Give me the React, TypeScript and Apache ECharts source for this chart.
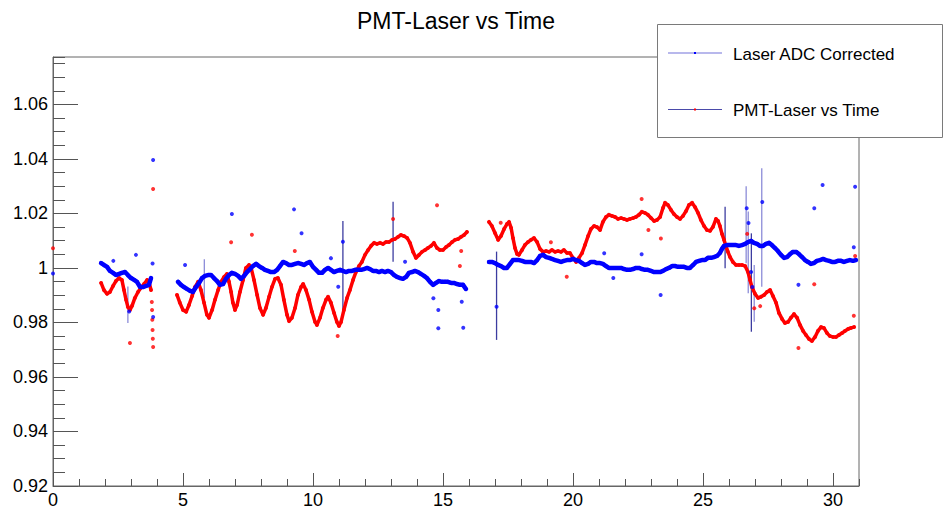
import React, { useEffect, useRef } from 'react';
import * as echarts from 'echarts';

// ---- Laser ADC Corrected (blue points) ----
const laserSeg1: [number, number][] = [
  [1.85, 1.0018], [1.96, 1.0011], [2.08, 1.0004], [2.19, 0.9989], [2.31, 0.9982], [2.42, 0.9974],
  [2.54, 0.9978], [2.65, 0.9982], [2.77, 0.9985], [2.88, 0.9974], [3.0, 0.9963], [3.12, 0.9956],
  [3.23, 0.9949], [3.35, 0.993], [3.46, 0.993], [3.58, 0.9934], [3.69, 0.9938], [3.77, 0.9963],
];
const laserSeg2: [number, number][] = [
  [4.81, 0.9949], [4.92, 0.9938], [5.04, 0.993], [5.15, 0.9923], [5.27, 0.9916], [5.38, 0.9912],
  [5.5, 0.993], [5.62, 0.9945], [5.73, 0.9963], [5.85, 0.9971], [5.96, 0.9974], [6.08, 0.9974],
  [6.19, 0.9963], [6.31, 0.9952], [6.42, 0.9938], [6.54, 0.9941], [6.65, 0.996], [6.77, 0.9974],
  [6.88, 0.9982], [7.0, 0.9978], [7.12, 0.9971], [7.23, 0.996], [7.35, 0.9971], [7.46, 0.9985],
  [7.58, 0.9996], [7.69, 1.0007], [7.81, 1.0015], [7.92, 1.0007], [8.04, 1.0], [8.15, 0.9993],
  [8.27, 0.9989], [8.38, 0.9985], [8.5, 0.9985], [8.62, 0.9993], [8.73, 1.0007], [8.85, 1.0022],
  [8.96, 1.0018], [9.08, 1.0011], [9.19, 1.0011], [9.31, 1.0015], [9.42, 1.0018], [9.54, 1.0015],
  [9.65, 1.0011], [9.77, 1.0018], [9.88, 1.0022], [10.0, 1.0004], [10.12, 0.9993], [10.23, 0.9982],
  [10.35, 0.9982], [10.46, 0.9993], [10.58, 1.0], [10.69, 0.9993], [10.81, 0.9985], [10.92, 0.9989],
  [11.04, 0.9993], [11.15, 0.9989], [11.27, 0.9985], [11.38, 0.9989], [11.5, 0.9989], [11.62, 0.9993],
  [11.73, 0.9993], [11.85, 0.9993], [11.96, 0.9996], [12.08, 1.0], [12.19, 0.9996], [12.31, 0.9989],
  [12.42, 0.9989], [12.54, 0.9985], [12.65, 0.9989], [12.77, 0.9985], [12.88, 0.9989], [13.0, 0.9985],
  [13.12, 0.9974], [13.23, 0.9967], [13.35, 0.9963], [13.46, 0.996], [13.58, 0.9967], [13.69, 0.9982],
  [13.81, 0.9985], [13.92, 0.9989], [14.04, 0.9985], [14.15, 0.9978], [14.27, 0.9971], [14.38, 0.9963],
  [14.5, 0.9949], [14.62, 0.9938], [14.73, 0.9945], [14.85, 0.9952], [14.96, 0.9949], [15.08, 0.9949],
  [15.19, 0.9949], [15.31, 0.9945], [15.42, 0.9945], [15.54, 0.9941], [15.65, 0.9938], [15.77, 0.9938],
  [15.88, 0.9923],
];
const laserSeg3: [number, number][] = [
  [16.77, 1.0022], [16.88, 1.0022], [17.0, 1.0018], [17.12, 1.0011], [17.23, 1.0007], [17.35, 1.0],
  [17.46, 1.0], [17.58, 1.0015], [17.69, 1.0029], [17.81, 1.0029], [17.92, 1.0029], [18.04, 1.0026],
  [18.15, 1.0022], [18.27, 1.0022], [18.38, 1.0022], [18.5, 1.0018], [18.62, 1.0029], [18.73, 1.0044],
  [18.85, 1.0048], [18.96, 1.004], [19.08, 1.0037], [19.19, 1.0033], [19.31, 1.0029], [19.42, 1.0026],
  [19.54, 1.0022], [19.65, 1.0026], [19.77, 1.0029], [19.88, 1.0029], [20.0, 1.0033], [20.12, 1.0029],
  [20.23, 1.0026], [20.35, 1.0018], [20.46, 1.0011], [20.58, 1.0015], [20.69, 1.0022], [20.81, 1.0022],
  [20.92, 1.0018], [21.04, 1.0018], [21.15, 1.0015], [21.27, 1.0007], [21.38, 1.0], [21.5, 1.0],
  [21.62, 1.0], [21.73, 1.0], [21.85, 1.0], [21.96, 0.9996], [22.08, 0.9993], [22.19, 0.9993],
  [22.31, 0.9996], [22.42, 1.0], [22.54, 1.0], [22.65, 0.9996], [22.77, 0.9993], [22.88, 0.9993],
  [23.0, 0.9989], [23.12, 0.9985], [23.23, 0.9985], [23.35, 0.9985], [23.46, 0.9989], [23.58, 0.9996],
  [23.69, 1.0], [23.81, 1.0007], [23.92, 1.0007], [24.04, 1.0004], [24.15, 1.0004], [24.27, 1.0004],
  [24.38, 1.0], [24.5, 1.0], [24.62, 1.0011], [24.73, 1.0022], [24.85, 1.0026], [24.96, 1.0029],
  [25.08, 1.0029], [25.19, 1.0037], [25.31, 1.0037], [25.42, 1.004], [25.54, 1.0044], [25.65, 1.0055],
  [25.73, 1.007], [25.81, 1.0081], [25.92, 1.0084], [26.04, 1.0084], [26.15, 1.0084], [26.27, 1.0084],
  [26.38, 1.0081], [26.5, 1.0084], [26.62, 1.0088], [26.73, 1.0095], [26.85, 1.0099], [26.96, 1.0092],
  [27.08, 1.0088], [27.19, 1.0081], [27.31, 1.0081], [27.42, 1.0088], [27.54, 1.0092], [27.65, 1.0084],
  [27.77, 1.0073], [27.88, 1.0062], [28.0, 1.0048], [28.12, 1.0037], [28.23, 1.004], [28.35, 1.0051],
  [28.46, 1.0059], [28.58, 1.0059], [28.69, 1.0051], [28.81, 1.004], [28.92, 1.0029], [29.04, 1.0022],
  [29.15, 1.0015], [29.27, 1.0018], [29.38, 1.0026], [29.5, 1.0029], [29.62, 1.0033], [29.73, 1.0029],
  [29.85, 1.0026], [29.96, 1.0022], [30.08, 1.0022], [30.19, 1.0026], [30.31, 1.0026], [30.42, 1.0022],
  [30.54, 1.0026], [30.65, 1.0029], [30.77, 1.0026], [30.88, 1.0029],
];
const laserOutliers: [number, number][] = [
  [0.0, 0.998], [2.32, 1.0026], [2.93, 0.984], [3.19, 1.0048], [3.83, 1.0016], [3.85, 0.982],
  [3.85, 1.0396], [5.08, 1.0011], [6.88, 1.0198], [9.27, 1.0215], [9.56, 1.0127], [10.69, 1.0036],
  [10.97, 0.9931], [11.15, 1.0096], [13.54, 1.0023], [14.63, 0.9889], [14.82, 0.9846], [14.82, 0.9779],
  [15.72, 0.9876], [15.78, 0.9781], [17.06, 0.9858], [21.2, 1.0054], [21.55, 0.9963], [22.64, 1.005],
  [23.37, 0.9901], [26.68, 1.0219], [26.75, 1.0165], [26.85, 0.9985], [26.9, 0.993], [27.28, 1.0242],
  [28.67, 0.9938], [29.28, 1.0219], [29.6, 1.0304], [30.8, 1.0076], [30.85, 1.0298],
];

// ---- PMT-Laser vs Time (red points) ----
const pmtSeg1: [number, number][] = [
  [1.85, 0.9945], [1.96, 0.9919], [2.08, 0.9905], [2.19, 0.9912], [2.31, 0.9934], [2.42, 0.9952],
  [2.54, 0.9963], [2.65, 0.9956], [2.73, 0.9919], [2.81, 0.9883], [2.88, 0.9857], [2.96, 0.9846],
  [3.04, 0.9861], [3.15, 0.989], [3.27, 0.9912], [3.38, 0.9927], [3.5, 0.9941], [3.62, 0.9956],
  [3.69, 0.9949], [3.77, 0.9919],
];
const pmtSeg2: [number, number][] = [
  [4.77, 0.9901], [4.88, 0.9872], [5.0, 0.9846], [5.12, 0.9839], [5.23, 0.9864], [5.35, 0.9897],
  [5.46, 0.993], [5.58, 0.9949], [5.69, 0.9919], [5.81, 0.9872], [5.92, 0.9828], [6.0, 0.9817],
  [6.12, 0.9846], [6.23, 0.9883], [6.35, 0.9919], [6.46, 0.9949], [6.58, 0.9967], [6.69, 0.9978],
  [6.77, 0.9949], [6.85, 0.9912], [6.92, 0.9872], [7.0, 0.9846], [7.08, 0.9864], [7.19, 0.9912],
  [7.31, 0.9956], [7.42, 1.0], [7.54, 1.0011], [7.62, 1.0], [7.73, 0.9956], [7.85, 0.9901],
  [7.96, 0.9853], [8.08, 0.9828], [8.19, 0.9853], [8.31, 0.9894], [8.42, 0.993], [8.54, 0.996],
  [8.65, 0.9963], [8.77, 0.9938], [8.88, 0.9883], [9.0, 0.9828], [9.08, 0.9805], [9.19, 0.9817],
  [9.31, 0.9853], [9.42, 0.9901], [9.54, 0.993], [9.62, 0.9941], [9.73, 0.9919], [9.85, 0.9883],
  [9.96, 0.9839], [10.08, 0.9802], [10.15, 0.9791], [10.27, 0.9817], [10.38, 0.9853], [10.5, 0.9883],
  [10.58, 0.9894], [10.69, 0.9872], [10.81, 0.9835], [10.92, 0.9802], [11.0, 0.9787], [11.08, 0.9802],
  [11.19, 0.9846], [11.31, 0.989], [11.42, 0.9919], [11.54, 0.9956], [11.65, 0.9985], [11.77, 1.0007],
  [11.88, 1.0022], [12.0, 1.0048], [12.12, 1.0066], [12.23, 1.0081], [12.35, 1.0092], [12.46, 1.0088],
  [12.58, 1.0092], [12.69, 1.0088], [12.81, 1.0095], [12.92, 1.0095], [13.04, 1.0103], [13.15, 1.0106],
  [13.27, 1.0114], [13.38, 1.0121], [13.5, 1.0117], [13.62, 1.011], [13.73, 1.0092], [13.85, 1.0059],
  [13.96, 1.0037], [14.08, 1.0048], [14.19, 1.0059], [14.31, 1.0066], [14.42, 1.0073], [14.54, 1.0081],
  [14.65, 1.0092], [14.77, 1.0073], [14.88, 1.0066], [15.0, 1.0066], [15.12, 1.0077], [15.23, 1.0084],
  [15.35, 1.0095], [15.46, 1.0103], [15.58, 1.0106], [15.69, 1.0114], [15.81, 1.0121], [15.92, 1.0132],
];
const pmtSeg3: [number, number][] = [
  [16.77, 1.0169], [16.88, 1.0154], [17.0, 1.0128], [17.12, 1.0103], [17.23, 1.0117], [17.35, 1.0143],
  [17.46, 1.0161], [17.54, 1.0169], [17.62, 1.0147], [17.69, 1.011], [17.77, 1.0073], [17.85, 1.0051],
  [17.92, 1.0048], [18.04, 1.0066], [18.15, 1.0084], [18.27, 1.0095], [18.38, 1.0103], [18.5, 1.011],
  [18.62, 1.0095], [18.73, 1.007], [18.85, 1.0059], [18.96, 1.0062], [19.08, 1.0059], [19.19, 1.0066],
  [19.31, 1.0059], [19.42, 1.0062], [19.54, 1.0059], [19.65, 1.0066], [19.77, 1.0055], [19.88, 1.0055],
  [20.0, 1.0037], [20.12, 1.0022], [20.23, 1.0037], [20.35, 1.0055], [20.46, 1.0084], [20.58, 1.0117],
  [20.69, 1.0143], [20.81, 1.0154], [20.92, 1.015], [21.04, 1.0139], [21.15, 1.0169], [21.27, 1.0187],
  [21.38, 1.0195], [21.5, 1.0191], [21.62, 1.0187], [21.73, 1.018], [21.85, 1.0183], [21.96, 1.018],
  [22.08, 1.0176], [22.19, 1.018], [22.31, 1.0183], [22.42, 1.0187], [22.54, 1.0195], [22.65, 1.0206],
  [22.77, 1.0202], [22.88, 1.0195], [23.0, 1.0183], [23.12, 1.0172], [23.23, 1.0176], [23.35, 1.0187],
  [23.46, 1.022], [23.54, 1.0239], [23.65, 1.0231], [23.77, 1.0213], [23.88, 1.0198], [24.0, 1.0187],
  [24.12, 1.018], [24.23, 1.0191], [24.35, 1.0209], [24.46, 1.0231], [24.58, 1.0239], [24.69, 1.0224],
  [24.81, 1.0202], [24.92, 1.0176], [25.04, 1.0154], [25.15, 1.0139], [25.27, 1.0136], [25.38, 1.015],
  [25.5, 1.018], [25.58, 1.0172], [25.65, 1.0154], [25.73, 1.0125], [25.81, 1.0103], [25.88, 1.0081],
  [25.96, 1.0059], [26.04, 1.004], [26.15, 1.0022], [26.27, 1.0011], [26.38, 1.0011], [26.5, 1.0011],
  [26.62, 1.0007], [26.73, 0.9985], [26.81, 0.9956], [26.88, 0.993], [27.0, 0.9905], [27.12, 0.989],
  [27.23, 0.9894], [27.35, 0.9901], [27.46, 0.9912], [27.58, 0.9919], [27.69, 0.9897], [27.81, 0.9872],
  [27.92, 0.9835], [28.04, 0.9813], [28.15, 0.9798], [28.27, 0.9802], [28.38, 0.9817], [28.5, 0.9831],
  [28.62, 0.9817], [28.73, 0.9791], [28.85, 0.9769], [28.96, 0.9754], [29.08, 0.9739], [29.19, 0.9732],
  [29.31, 0.9747], [29.42, 0.9769], [29.54, 0.9783], [29.65, 0.978], [29.77, 0.9761], [29.88, 0.975],
  [30.0, 0.9747], [30.12, 0.9747], [30.23, 0.9754], [30.35, 0.9761], [30.46, 0.9769], [30.58, 0.9776],
  [30.69, 0.978], [30.81, 0.9783],
];
const pmtOutliers: [number, number][] = [
  [0.0, 1.0072], [2.96, 0.9725], [3.8, 0.9875], [3.81, 0.9846], [3.82, 0.981], [3.83, 0.9772],
  [3.84, 0.974], [3.85, 0.971], [3.85, 1.029], [6.85, 1.0094], [7.65, 1.0122], [9.3, 1.0062],
  [10.95, 0.975], [13.08, 1.018], [14.77, 1.023], [15.65, 1.0007], [15.7, 1.0062], [17.22, 1.0166],
  [19.15, 1.0094], [19.76, 0.9968], [22.64, 1.0253], [22.9, 1.0139], [23.38, 1.0108], [26.7, 1.0125],
  [26.97, 0.9852], [27.2, 0.986], [28.67, 0.9706], [29.28, 0.994], [30.8, 0.9825], [30.85, 1.0044],
];

// ---- error bars: [time, low, high] ----
const laserErrorBars: [number, number, number][] = [
  [2.88, 0.9798, 0.9932], [5.82, 0.9889, 1.0032], [26.66, 1.0017, 1.03], [26.74, 0.9907, 1.0207],
  [26.97, 0.9803, 1.0011], [27.26, 0.9931, 1.0366],
];
const pmtErrorBars: [number, number, number][] = [
  [11.15, 0.9846, 1.0172], [13.08, 1.0023, 1.0243], [17.06, 0.9736, 1.006], [25.85, 0.9999, 1.0225],
  [26.86, 0.9766, 1.0127],
];

const TITLE = 'PMT-Laser vs Time';
const LEGEND_NAMES = ['Laser ADC Corrected', 'PMT-Laser vs Time'];
const X_MIN = 0;
const X_MAX = 31;
const Y_MIN = 0.92;
const Y_MAX = 1.0774;

const FONT = '"Liberation Sans", Arial, Helvetica, sans-serif';
const BLUE = '#0000ff';
const RED = '#ff0000';
const LIGHT_BAR = '#8c8cd8';
const DARK_BAR = '#3c3ca0';

function errorSeries(data: [number, number, number][], color: string) {
  return {
    type: 'custom',
    xAxisIndex: 0,
    yAxisIndex: 0,
    silent: true,
    z: 1,
    data,
    encode: { x: 0, y: [1, 2] },
    renderItem: (_params: any, api: any) => {
      const p1 = api.coord([api.value(0), api.value(1)]);
      const p2 = api.coord([api.value(0), api.value(2)]);
      return {
        type: 'line',
        shape: { x1: p1[0], y1: p1[1], x2: p2[0], y2: p2[1] },
        style: { stroke: color, lineWidth: 1.3 },
      };
    },
  };
}

// dense run of measurements: a trace through the points (no symbols)
function trace(data: [number, number][], color: string, width: number, z: number) {
  return {
    type: 'line', xAxisIndex: 0, yAxisIndex: 0, z, silent: true,
    showSymbol: false, symbol: 'none', smooth: false,
    lineStyle: { color, width, join: 'round', cap: 'round' },
    data,
  };
}

export default function App() {
  const ref = useRef<HTMLDivElement>(null);
  useEffect(() => {
    if (!ref.current) return;
    const chart = echarts.init(ref.current, null, { renderer: 'svg' });
    const tickColor = '#555';
    const option: any = {
      animation: false,
      backgroundColor: '#ffffff',
      grid: {
        left: 53, top: 57, width: 806, height: 429,
        show: true, borderColor: '#666', borderWidth: 1, backgroundColor: 'transparent',
      },
      xAxis: [
        {
          type: 'value', min: X_MIN, max: X_MAX, interval: 5, position: 'bottom',
          axisLine: { show: true, onZero: false, lineStyle: { color: '#666' } },
          axisTick: { show: true, inside: true, length: 13, lineStyle: { color: tickColor } },
          axisLabel: { fontFamily: FONT, fontSize: 18, color: '#000', margin: 5, showMaxLabel: false },
          splitLine: { show: false },
        },
        {
          type: 'value', min: X_MIN, max: X_MAX, interval: 1, position: 'bottom',
          axisLine: { show: false, onZero: false },
          axisTick: { show: true, inside: true, length: 7, lineStyle: { color: tickColor } },
          axisLabel: { show: false },
          splitLine: { show: false },
        },
      ],
      yAxis: [
        {
          type: 'value', min: Y_MIN, max: Y_MAX, interval: 0.02, position: 'left',
          axisLine: { show: true, onZero: false, lineStyle: { color: '#666' } },
          axisTick: { show: true, inside: true, length: 25, lineStyle: { color: tickColor } },
          axisLabel: {
            fontFamily: FONT, fontSize: 18, color: '#000', margin: 5, showMaxLabel: false,
            formatter: (v: number) => String(parseFloat(v.toFixed(3))),
          },
          splitLine: { show: false },
        },
        {
          type: 'value', min: Y_MIN, max: Y_MAX, interval: 0.005, position: 'left',
          axisLine: { show: false, onZero: false },
          axisTick: { show: true, inside: true, length: 12, lineStyle: { color: tickColor } },
          axisLabel: { show: false },
          splitLine: { show: false },
        },
      ],
      series: [
        errorSeries(laserErrorBars, LIGHT_BAR),
        errorSeries(pmtErrorBars, DARK_BAR),
        trace(pmtSeg1, RED, 3.5, 2),
        trace(pmtSeg2, RED, 3.5, 2),
        trace(pmtSeg3, RED, 3.5, 2),
        trace(laserSeg1, BLUE, 4.5, 3),
        trace(laserSeg2, BLUE, 4.5, 3),
        trace(laserSeg3, BLUE, 4.5, 3),
        {
          name: LEGEND_NAMES[1], type: 'scatter', xAxisIndex: 0, yAxisIndex: 0, z: 2,
          symbol: 'circle', symbolSize: 4, silent: true,
          itemStyle: { color: RED },
          data: [...pmtSeg1, ...pmtSeg2, ...pmtSeg3, ...pmtOutliers],
        },
        {
          name: LEGEND_NAMES[0], type: 'scatter', xAxisIndex: 0, yAxisIndex: 0, z: 3,
          symbol: 'circle', symbolSize: 4, silent: true,
          itemStyle: { color: BLUE },
          data: [...laserSeg1, ...laserSeg2, ...laserSeg3, ...laserOutliers],
        },
      ],
      graphic: [
        {
          type: 'text', x: 456, y: 21, z: 10,
          style: { text: TITLE, font: `23px ${FONT}`, fill: '#000', align: 'center', verticalAlign: 'middle' },
        },
        {
          type: 'rect', z: 100, shape: { x: 657.5, y: 24.5, width: 285, height: 113 },
          style: { fill: '#fff', stroke: '#7a7a7a', lineWidth: 1 },
        },
        {
          type: 'line', z: 101, shape: { x1: 668, y1: 53, x2: 722, y2: 53 },
          style: { stroke: '#a0a0e6', lineWidth: 1.5 },
        },
        { type: 'rect', z: 102, shape: { x: 694, y: 52, width: 2, height: 2 }, style: { fill: BLUE } },
        {
          type: 'text', z: 101, x: 733, y: 54,
          style: { text: LEGEND_NAMES[0], font: `17px ${FONT}`, fill: '#000', align: 'left', verticalAlign: 'middle' },
        },
        {
          type: 'line', z: 101, shape: { x1: 668, y1: 109.5, x2: 722, y2: 109.5 },
          style: { stroke: '#4a4aaa', lineWidth: 1.2 },
        },
        { type: 'rect', z: 102, shape: { x: 694, y: 108.5, width: 2, height: 2 }, style: { fill: RED } },
        {
          type: 'text', z: 101, x: 733, y: 110,
          style: { text: LEGEND_NAMES[1], font: `17px ${FONT}`, fill: '#000', align: 'left', verticalAlign: 'middle' },
        },
      ],
    };
    chart.setOption(option);
    return () => chart.dispose();
  }, []);
  return (
    <div
      ref={ref}
      style={{ position: 'fixed', left: 0, top: 0, width: 943, height: 509, background: '#fff' }}
    />
  );
}
